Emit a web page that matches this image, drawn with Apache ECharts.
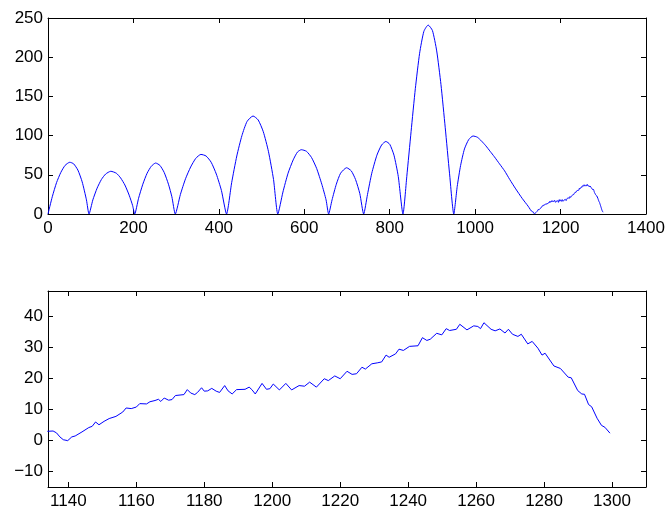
<!DOCTYPE html>
<html>
<head>
<meta charset="utf-8">
<script src="https://cdn.jsdelivr.net/npm/echarts@6/dist/echarts.min.js"></script>
<style>html,body{margin:0;padding:0;background:#fff}#c{width:669px;height:515px}</style>
</head>
<body>
<div id="c"></div>
<script>
// ---- top panel: whole signal (0 .. 1134), tail continues with the zoomed data ----
var topX = [0,10,20,30,40,51,60,70,80,90,96,
  105,115,125,135,147,160,170,180,190,198,203,
  212,222,232,242,252,262,272,282,290,298,
  310,322,334,346,358,370,382,394,406,418,
  430,442,454,466,480,492,504,516,528,538,
  550,562,574,584,593,605,617,629,641,651,657,
  665,675,685,699,710,720,730,739,
  748,758,770,781,791,800,810,820,831,
  840,850,860,870,880,890,900,910,920,930,940,950,
  958,966,975,985,995,1005,1015,1025,1035,1045,1057,1069,1081,1095,1110,1124];
var topY = [0,22,40,53,62,66,64,56,41,18,0,
  18,33,44,51,54.5,52,46,37,24,11,0,
  20,38,52,61,65,62,53,38,22,0,
  25,45,60,71,76,74,66,51,30,0,
  40,74,100,118,125,120,105,80,44,0,
  28,52,69,79,82,80,72,58,38,18,0,
  18,38,52,59,55,44,26,0,
  25,52,75,88,92.5,89,75,48,0,
  48,105,160,205,233,241,234,208,165,110,52,0,
  35,62,83,95,99.5,98,93,87,80,73,64,55,44,32,20,10];

// ---- bottom panel: zoom on 1134 .. 1299 ----
var zoomX = [1133.8,1135.5,1136.5,1137.5,1138.5,1139.8,1141,1142,1144,1146,1147,1148,1149,1150.5,1152,1154,1156,1157,1158.5,1160,
  1161,1163,1164,1165.5,1166.5,1167.2,1168.2,1169.5,1170.5,1171.5,1174,1175,1176,1177.2,1178,1179.2,1180,1181,1182.2,1183.5,
  1184.5,1186,1187,1188.2,1189.5,1192,1193.2,1194,1195,1197,1198.3,1199.3,1200.3,1202.1,1204,1205.7,1207.9,1209.5,1211,1213,
  1215.3,1216.5,1218.4,1220,1222,1223.5,1224.8,1226.4,1227.4,1229.3,1230.9,1232.2,1233.5,1234.4,1236.3,1237.3,1238.6,1240.4,1242.9,1244.2,
  1245.5,1246.5,1248.4,1249.9,1251.2,1252.2,1254.2,1255.2,1257.3,1259.3,1260.5,1261.3,1262.3,1264.4,1265.6,1267,1268.5,1269.5,1270.7,1272.3,
  1273.3,1275.2,1276.5,1278.2,1279.4,1280.3,1282.9,1284.8,1287.1,1288,1289.9,1291.1,1291.9,1293.1,1294,1295.6,1296.9,1297.9,1299.4];
var zoomY = [2.9,3.0,2.4,1.1,0.2,-0.1,1.1,1.4,2.7,4.1,4.5,5.9,5.0,6.1,7.0,7.7,9.1,10.4,10.2,10.7,
  11.8,11.7,12.4,12.8,13.2,12.5,13.6,12.9,13.1,14.4,14.7,16.3,15.2,14.7,15.4,16.9,15.8,15.9,16.7,15.8,
  15.4,17.6,15.9,14.9,16.3,16.4,17.1,16.3,14.9,18.3,16.4,16.6,18.1,16.2,18.3,16.2,17.6,17.4,18.7,17.1,
  19.8,19.2,20.7,19.8,22.2,21.2,21.4,23.5,22.9,24.6,24.9,25.2,27.4,26.7,27.8,29.3,28.9,30.2,30.4,33.0,
  32.1,32.5,34.4,33.9,35.9,35.3,35.7,37.3,35.5,36.8,36.6,35.9,37.8,35.7,35.2,35.8,34.5,35.7,34.1,33.4,
  34.1,31.0,31.8,29.6,27.4,28.0,23.9,23.1,20.3,20.1,16.0,14.9,14.8,11.5,10.8,7.1,4.8,4.2,2.3];

var zoomXTicks = [1140,1160,1180,1200,1220,1240,1260,1280,1300];
var zoomYTicks = [-10,0,10,20,30,40];

var topPts = topX.map(function(x,i){return [x, topY[i]];});
var zoomPts = zoomX.map(function(x,i){return [x, zoomY[i]];});

var FONT = {color:'#000', fontSize:17, fontFamily:'Liberation Sans, Arial, sans-serif'};
function plain(v){ return String(v).replace('-', '\u2212'); }
function ax(extra){
  var o = {axisLine:{show:true,onZero:false,lineStyle:{color:'#000',width:1}},
    axisTick:{show:true,inside:true,length:5,lineStyle:{color:'#000',width:1}},
    splitLine:{show:false}, axisLabel:Object.assign({formatter:plain, hideOverlap:false}, FONT)};
  for (var k in extra){
    if (typeof extra[k]==='object' && o[k] && !Array.isArray(extra[k])) o[k]=Object.assign({}, o[k], extra[k]);
    else o[k]=extra[k];
  }
  return o;
}

var chart = echarts.init(document.getElementById('c'), null, {renderer:'canvas'});
chart.setOption({
  animation:false,
  backgroundColor:'#fff',
  grid:[
    {left:48, top:18, width:598, height:196, show:false},
    {left:48, top:291, width:598, height:196, show:false}
  ],
  xAxis:[
    ax({type:'value', gridIndex:0, min:0, max:1400, interval:200, position:'bottom', axisLabel:{margin:6}}),
    ax({type:'value', gridIndex:0, min:0, max:1400, interval:200, position:'top', axisLabel:{show:false}}),
    ax({type:'value', gridIndex:1, min:1134, max:1310, position:'bottom',
        axisLabel:{margin:6, customValues:zoomXTicks}, axisTick:{customValues:zoomXTicks}}),
    ax({type:'value', gridIndex:1, min:1134, max:1310, position:'top', axisLabel:{show:false}, axisTick:{customValues:zoomXTicks}})
  ],
  yAxis:[
    ax({type:'value', gridIndex:0, min:0, max:250, interval:50, position:'left', axisLabel:{margin:5}}),
    ax({type:'value', gridIndex:0, min:0, max:250, interval:50, position:'right', axisLabel:{show:false}}),
    ax({type:'value', gridIndex:1, min:-15, max:48, position:'left',
        axisLabel:{margin:5, customValues:zoomYTicks}, axisTick:{customValues:zoomYTicks}}),
    ax({type:'value', gridIndex:1, min:-15, max:48, position:'right', axisLabel:{show:false}, axisTick:{customValues:zoomYTicks}})
  ],
  series:[
    {type:'line', xAxisIndex:0, yAxisIndex:0, data:topPts.concat(zoomPts), showSymbol:false, symbol:'none',
     smooth:0.2, lineStyle:{color:'#0000ff', width:1}},
    {type:'line', xAxisIndex:2, yAxisIndex:2, data:zoomPts, showSymbol:false, symbol:'none',
     lineStyle:{color:'#0000ff', width:1}}
  ]
});
</script>
</body>
</html>
